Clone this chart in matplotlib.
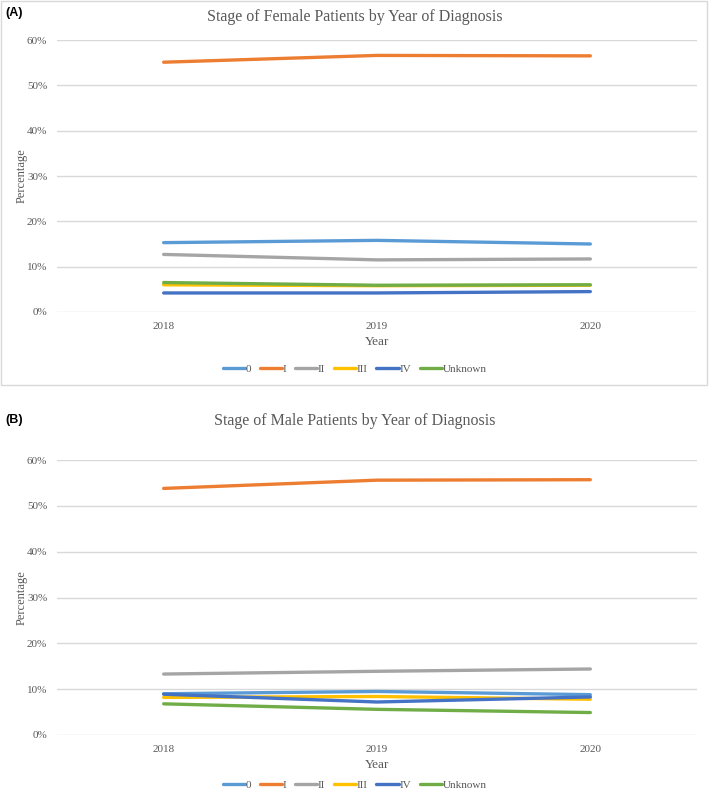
import matplotlib.pyplot as plt
from matplotlib.patches import Rectangle
from matplotlib.ticker import PercentFormatter

# Данные (доли)
years = ['2018', '2019', '2020']
stages = ['0', 'I', 'II', 'III', 'IV', 'Unknown']

female_0 = [0.153, 0.158, 0.150]
female_I = [0.551, 0.566, 0.565]
female_II = [0.127, 0.115, 0.117]
female_III = [0.060, 0.058, 0.059]
female_IV = [0.042, 0.042, 0.045]
female_unknown = [0.065, 0.059, 0.060]

male_0 = [0.090, 0.095, 0.088]
male_I = [0.538, 0.556, 0.557]
male_II = [0.133, 0.139, 0.144]
male_III = [0.082, 0.084, 0.078]
male_IV = [0.089, 0.072, 0.083]
male_unknown = [0.068, 0.056, 0.049]

colors = ['#5B9BD5', '#ED7D31', '#A5A5A5', '#FFC000', '#4472C4', '#70AD47']
text_color = '#595959'

plt.rcParams['font.family'] = ['Liberation Serif', 'DejaVu Serif']

fig = plt.figure(figsize=(7.09, 7.96), dpi=100)

# Светло-серая рамка вокруг панели (A)
fig.patches.append(Rectangle((0.001, 1 - 385 / 796), 0.996, 384 / 796,
                             transform=fig.transFigure, fill=False,
                             edgecolor='#D9D9D9', linewidth=1.0))


def draw_panel(rect, title, series, label, title_y, label_y, legend_y):
    ax = fig.add_axes(rect)
    x = list(range(len(years)))
    for name, vals, c in zip(stages, series, colors):
        ax.plot(x, vals, color=c, linewidth=2.4, label=name,
                solid_capstyle='round')
    ax.set_xlim(-0.5, 2.5)
    ax.set_ylim(0, 0.6)
    ax.set_yticks([0, 0.1, 0.2, 0.3, 0.4, 0.5, 0.6])
    ax.yaxis.set_major_formatter(PercentFormatter(1.0, decimals=0))
    ax.set_xticks(x)
    ax.set_xticklabels(years)
    ax.tick_params(length=0, labelsize=8, colors=text_color, pad=7)
    ax.grid(axis='y', color='#D9D9D9', linewidth=1.0)
    ax.set_axisbelow(True)
    for s in ax.spines.values():
        s.set_visible(False)
    ax.set_xlabel('Year', fontsize=9.5, color=text_color, labelpad=4)
    fig.text(0.03, rect[1] + rect[3] / 2, 'Percentage', rotation=90,
             ha='center', va='center', fontsize=9, color=text_color)
    fig.text(0.5, title_y, title, ha='center', va='center',
             fontsize=11.5, color=text_color)
    fig.text(0.008, label_y, label, ha='left', va='center', fontsize=9,
             fontweight='bold', family=['Liberation Sans', 'DejaVu Sans'])
    ax.legend(loc='center', bbox_to_anchor=(0.5, legend_y),
              bbox_transform=fig.transFigure, ncol=6, frameon=False,
              fontsize=8, handlelength=2.0, handletextpad=0.05,
              columnspacing=0.8, labelcolor=text_color)
    return ax


draw_panel([57 / 709, 1 - 312 / 796, 640 / 709, 272 / 796],
           'Stage of Female Patients by Year of Diagnosis',
           [female_0, female_I, female_II, female_III, female_IV, female_unknown],
           '(A)', 1 - 17 / 796, 1 - 13 / 796, 1 - 369 / 796)

draw_panel([57 / 709, 1 - 735 / 796, 640 / 709, 275 / 796],
           'Stage of Male Patients by Year of Diagnosis',
           [male_0, male_I, male_II, male_III, male_IV, male_unknown],
           '(B)', 1 - 421 / 796, 1 - 420 / 796, 1 - 785 / 796)

fig.savefig('out.png', dpi=100)
